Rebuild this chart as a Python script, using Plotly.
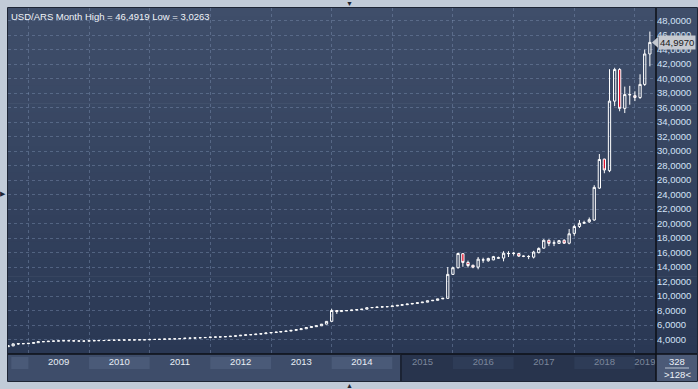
import plotly.graph_objects as go
import pandas as pd

# ---------------- data (monthly USD/ARS, Sep 2008 .. Apr 2019) ----------------
start_month = "2008-09-01"
opens = [3.03, 3.14, 3.40, 3.44,
         3.45, 3.49, 3.58, 3.72, 3.72, 3.78, 3.80, 3.83, 3.85, 3.84, 3.82, 3.81,
         3.80, 3.84, 3.86, 3.87, 3.88, 3.92, 3.93, 3.94, 3.95, 3.96, 3.96, 3.98,
         3.98, 4.03, 4.03, 4.05, 4.08, 4.09, 4.11, 4.14, 4.20, 4.21, 4.24, 4.27,
         4.30, 4.35, 4.36, 4.38, 4.42, 4.47, 4.52, 4.60, 4.66, 4.69, 4.76, 4.82,
         4.92, 4.98, 5.04, 5.12, 5.18, 5.28, 5.38, 5.50, 5.67, 5.79, 5.91, 6.14,
         6.52, 8.02, 7.87, 8.00, 8.00, 8.08, 8.13, 8.20, 8.40, 8.43, 8.49, 8.53,
         8.55, 8.64, 8.73, 8.82, 8.91, 8.99, 9.09, 9.17, 9.36, 9.42, 9.62, 9.70,
         13.00, 13.92, 15.85, 14.65, 14.25, 14.00, 14.98, 14.88, 15.00, 15.22, 15.25, 15.85,
         15.88, 15.88, 15.52, 15.45, 15.38, 16.00, 16.62, 17.70, 17.30, 17.28, 17.70, 17.30,
         18.65, 19.60, 20.05, 20.25, 20.50, 24.90, 28.90, 27.30, 36.90, 41.25, 35.90, 37.75,
         37.65, 37.40, 39.20, 43.40]
highs = [3.20, 3.46, 3.47, 3.48,
         3.50, 3.59, 3.77, 3.76, 3.80, 3.83, 3.86, 3.87, 3.88, 3.86, 3.83, 3.82,
         3.85, 3.87, 3.88, 3.89, 3.95, 3.94, 3.95, 3.96, 3.97, 3.98, 3.99, 4.00,
         4.04, 4.05, 4.07, 4.10, 4.10, 4.12, 4.15, 4.21, 4.22, 4.25, 4.30, 4.31,
         4.36, 4.37, 4.39, 4.43, 4.48, 4.53, 4.61, 4.67, 4.70, 4.77, 4.83, 4.93,
         4.99, 5.05, 5.13, 5.19, 5.29, 5.39, 5.51, 5.68, 5.80, 5.92, 6.15, 6.55,
         8.25, 8.05, 8.02, 8.02, 8.10, 8.15, 8.22, 8.42, 8.46, 8.50, 8.55, 8.57,
         8.65, 8.74, 8.83, 8.92, 9.00, 9.10, 9.18, 9.37, 9.43, 9.63, 9.71, 14.02,
         14.05, 16.00, 15.95, 14.90, 14.35, 15.40, 15.30, 15.30, 15.55, 15.45, 16.20, 16.20,
         16.10, 15.95, 15.60, 15.65, 16.25, 16.72, 17.85, 17.82, 17.70, 17.75, 17.85, 19.25,
         19.84, 20.50, 20.40, 20.85, 25.30, 29.60, 28.95, 41.30, 41.50, 41.45, 38.90, 39.00,
         38.25, 40.60, 44.00, 46.4919]
lows = [3.0263, 3.10, 3.30, 3.40,
        3.44, 3.48, 3.57, 3.68, 3.70, 3.76, 3.79, 3.82, 3.83, 3.78, 3.79, 3.78,
        3.79, 3.83, 3.84, 3.86, 3.87, 3.91, 3.92, 3.93, 3.94, 3.94, 3.95, 3.96,
        3.97, 4.01, 4.02, 4.04, 4.07, 4.08, 4.10, 4.13, 4.18, 4.20, 4.23, 4.26,
        4.29, 4.33, 4.35, 4.37, 4.41, 4.46, 4.51, 4.59, 4.65, 4.68, 4.75, 4.81,
        4.91, 4.97, 5.03, 5.11, 5.17, 5.27, 5.37, 5.49, 5.66, 5.78, 5.90, 6.12,
        6.50, 7.55, 7.85, 7.97, 7.99, 8.07, 8.12, 8.19, 8.39, 8.42, 8.47, 8.52,
        8.54, 8.63, 8.72, 8.81, 8.90, 8.98, 9.08, 9.16, 9.35, 9.41, 9.60, 9.65,
        12.95, 13.80, 14.05, 13.95, 13.85, 13.70, 14.60, 14.75, 14.95, 15.15, 14.80, 15.40,
        15.60, 15.40, 15.38, 15.10, 15.20, 15.90, 16.55, 16.90, 16.90, 17.20, 17.20, 17.15,
        18.32, 19.40, 19.95, 20.10, 20.40, 24.80, 26.95, 27.10, 36.20, 35.50, 35.25, 36.40,
        36.90, 37.20, 39.00, 41.70]
closes = [3.15, 3.42, 3.44, 3.45,
          3.49, 3.58, 3.72, 3.72, 3.78, 3.80, 3.83, 3.85, 3.84, 3.82, 3.81, 3.80,
          3.84, 3.86, 3.87, 3.88, 3.92, 3.93, 3.94, 3.95, 3.96, 3.96, 3.98, 3.98,
          4.03, 4.03, 4.05, 4.08, 4.09, 4.11, 4.14, 4.20, 4.21, 4.24, 4.27, 4.30,
          4.35, 4.36, 4.38, 4.42, 4.47, 4.52, 4.60, 4.66, 4.69, 4.76, 4.82, 4.92,
          4.98, 5.04, 5.12, 5.18, 5.28, 5.38, 5.50, 5.67, 5.79, 5.91, 6.14, 6.52,
          8.02, 7.87, 8.00, 8.00, 8.08, 8.13, 8.20, 8.40, 8.43, 8.49, 8.53, 8.55,
          8.64, 8.73, 8.82, 8.91, 8.99, 9.09, 9.17, 9.36, 9.42, 9.62, 9.70, 13.00,
          13.92, 15.88, 14.65, 14.22, 14.00, 15.10, 15.00, 15.20, 15.45, 15.30, 15.92, 15.88,
          15.90, 15.52, 15.50, 15.47, 16.08, 16.58, 17.70, 17.28, 17.35, 17.65, 17.30, 18.60,
          19.60, 20.05, 20.15, 20.55, 25.00, 28.85, 27.40, 36.90, 41.25, 35.90, 37.80, 37.80,
          37.40, 39.20, 43.40, 44.997]

years = [2009, 2010, 2011, 2012, 2013, 2014, 2015, 2016, 2017, 2018, 2019]
active_years = [2009, 2010, 2011, 2012, 2013, 2014]
bar_counter = 328
instrument = "USD/ARS"
period = "Month"

dates = pd.date_range(start_month, periods=len(closes), freq="MS")

# ---------------- geometry / style ----------------
W, H = 698, 389
ML, MR, MT, MB = 8, 42, 8, 35
PW, PH = W - ML - MR, H - MT - MB


def px(xp):
    return (xp - ML) / PW


def py(yp):
    return (H - MB - yp) / PH


FONT = "Arial, 'Liberation Sans', sans-serif"
x_range = ["2008-08-31", "2019-05-08"]

fig = go.Figure()
fig.add_trace(go.Candlestick(
    x=dates, open=opens, high=highs, low=lows, close=closes,
    increasing=dict(line=dict(color="#ffffff", width=1), fillcolor="rgba(0,0,0,0)"),
    decreasing=dict(line=dict(color="#ffffff", width=1), fillcolor="#e3102c"),
    whiskerwidth=0, hoverinfo="skip", showlegend=False,
))

shapes = []
# vertical gradient background of chart + right axis panel
N = 40
top_c = (63, 78, 106)
bot_c = (42, 56, 84)
for i in range(N):
    t = i / (N - 1)
    c = tuple(round(top_c[k] + (bot_c[k] - top_c[k]) * t) for k in range(3))
    shapes.append(dict(type="rect", xref="paper", yref="paper",
                       x0=0, x1=px(697), y0=1 - (i + 1) / N - 0.002, y1=1 - i / N,
                       fillcolor="rgb(%d,%d,%d)" % c, line=dict(width=0), layer="below"))
# x-axis band
split_x = px(401)
shapes.append(dict(type="rect", xref="paper", yref="paper", x0=0, x1=split_x,
                   y0=py(381), y1=py(354), fillcolor="#3e4d6a", line=dict(width=0), layer="below"))
shapes.append(dict(type="rect", xref="paper", yref="paper", x0=split_x, x1=1,
                   y0=py(381), y1=py(354), fillcolor="#28344d", line=dict(width=0), layer="below"))
band_years = [2008, 2010, 2012, 2014, 2016, 2018]
for yv in band_years:
    x0 = max(pd.Timestamp(f"{yv}-01-01"), pd.Timestamp("2008-09-20"))
    x1 = pd.Timestamp(f"{yv + 1}-01-01")
    col = "#4a5a78" if yv <= 2014 else "#2e3c57"
    shapes.append(dict(type="rect", xref="x", yref="paper", x0=x0, x1=x1,
                       y0=py(369), y1=py(357), fillcolor=col, line=dict(width=0), layer="below"))
shapes.append(dict(type="line", xref="paper", yref="paper", x0=split_x, x1=split_x,
                   y0=py(381), y1=py(355), line=dict(color="#1b2334", width=2)))
# corner box
shapes.append(dict(type="rect", xref="paper", yref="paper", x0=px(656), x1=px(697),
                   y0=py(381), y1=py(354), fillcolor="#4b5a77", line=dict(width=0)))
shapes.append(dict(type="line", xref="paper", yref="paper", x0=px(665), x1=px(689),
                   y0=py(368), y1=py(368), line=dict(color="#b9c3d3", width=1)))
# frame lines
shapes.append(dict(type="line", xref="paper", yref="paper", x0=1, x1=1,
                   y0=py(381), y1=py(8), line=dict(color="#0c0f16", width=1.5)))
shapes.append(dict(type="line", xref="paper", yref="paper", x0=0, x1=px(697.5),
                   y0=0, y1=0, line=dict(color="#0c0f16", width=1.5)))
shapes.append(dict(type="rect", xref="paper", yref="paper", x0=px(7.5), x1=px(697.5),
                   y0=py(381.5), y1=py(7.5), line=dict(color="#1d2535", width=1)))
# last price pointer
last = closes[-1]
shapes.append(dict(type="path", xref="paper", yref="y",
                   path="M %f,%f L %f,%f L %f,%f Z" % (px(652), last, px(658), last + 0.75, px(658), last - 0.75),
                   fillcolor="#c5c9d0", line=dict(width=0)))

ann = []
fmt = lambda v: f"{v:.4f}".replace(".", ",")
ann.append(dict(text=f"{instrument} {period} High = {fmt(max(highs))} Low = {fmt(min(lows))}",
                xref="paper", yref="paper", x=px(9), y=py(9), xanchor="left", yanchor="top",
                showarrow=False, font=dict(family=FONT, size=9.5, color="#f0f3f8")))
ann.append(dict(text=fmt(last), xref="paper", yref="y", x=px(657.5), y=last,
                xanchor="left", yanchor="middle", showarrow=False, bgcolor="#c5c9d0",
                borderpad=1, font=dict(family=FONT, size=9.5, color="#1a1a1a")))
ann.append(dict(text=str(bar_counter), xref="paper", yref="paper", x=px(677), y=py(361.5),
                xanchor="center", yanchor="middle", showarrow=False,
                font=dict(family=FONT, size=9.5, color="#eef2f8")))
ann.append(dict(text=f"&gt;{len(closes)}&lt;", xref="paper", yref="paper", x=px(677), y=py(374.5),
                xanchor="center", yanchor="middle", showarrow=False,
                font=dict(family=FONT, size=9.5, color="#eef2f8")))
for txt, xx, yy in [("▼", 349, 4), ("▲", 349, 385), ("▶", 3, 193)]:
    ann.append(dict(text=txt, xref="paper", yref="paper", x=px(xx), y=py(yy),
                    xanchor="center", yanchor="middle", showarrow=False,
                    font=dict(family=FONT, size=7, color="#1c2433")))

# year labels (centred in each year, 2019 in visible part)
tickvals, ticktext = [], []
for yv in years:
    pos = f"{yv}-07-02" if yv < 2019 else "2019-03-02"
    col = "#e8edf5" if yv in active_years else "#7b869b"
    tickvals.append(pos)
    ticktext.append(f'<span style="color:{col}">{yv}</span>')

grid_col = "rgba(125,145,178,0.45)"
fig.update_layout(
    width=W, height=H,
    margin=dict(l=ML, r=MR, t=MT, b=MB, pad=0),
    paper_bgcolor="#c1cbd8", plot_bgcolor="rgba(0,0,0,0)",
    separators=",.",
    font=dict(family=FONT, size=9.5, color="#e8edf5"),
    showlegend=False,
    shapes=shapes, annotations=ann,
    xaxis=dict(type="date", range=x_range, rangeslider=dict(visible=False),
               showgrid=False, zeroline=False, showline=False, ticks="",
               tickmode="array", tickvals=tickvals, ticktext=ticktext,
               tickfont=dict(family=FONT, size=9.5),
               minor=dict(dtick="M12", tick0="2009-01-01", showgrid=True,
                          gridcolor=grid_col, griddash="3px,3px", gridwidth=1, ticks=""),
               fixedrange=True),
    yaxis=dict(side="right", range=[2.02, 49.74], dtick=2, tick0=0,
               tickformat=".4f", showgrid=True, gridcolor=grid_col, griddash="3px,3px",
               zeroline=False, showline=False, ticks="",
               tickfont=dict(family=FONT, size=9.5, color="#d3e2f6"), fixedrange=True),
)

fig.write_html("out.html")
